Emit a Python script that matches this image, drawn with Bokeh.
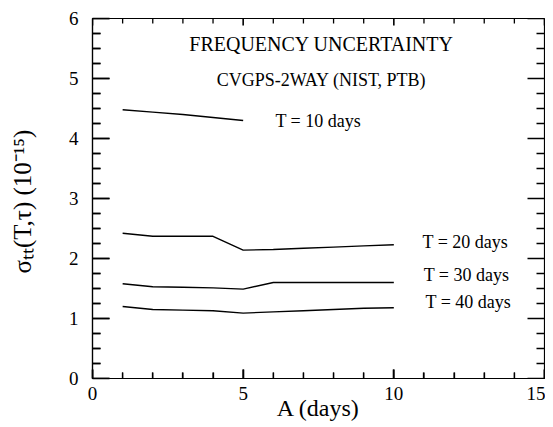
import numpy as np
from bokeh.plotting import figure
from bokeh.models import Label, Range1d, FixedTicker
from bokeh.embed import file_html
from bokeh.resources import INLINE

# data
A_t10 = [1, 2, 3, 4, 5]
S_t10 = [4.48, 4.44, 4.40, 4.35, 4.30]

A_t20 = [1, 2, 3, 4, 5, 6, 7, 8, 9, 10]
S_t20 = [2.42, 2.37, 2.37, 2.37, 2.14, 2.15, 2.17, 2.19, 2.21, 2.23]

A_t30 = [1, 2, 3, 4, 5, 6, 7, 8, 9, 10]
S_t30 = [1.58, 1.53, 1.52, 1.51, 1.49, 1.60, 1.60, 1.60, 1.60, 1.60]

A_t40 = [1, 2, 3, 4, 5, 6, 7, 8, 9, 10]
S_t40 = [1.20, 1.15, 1.14, 1.13, 1.09, 1.11, 1.13, 1.15, 1.17, 1.18]

x_ticks = [0, 5, 10, 15]
y_ticks = [0, 1, 2, 3, 4, 5, 6]
x_minor_step = 1.0
y_minor_step = 0.25

FONT = "Liberation Serif"
FW, FH = 452, 360
X0, X1, Y0, Y1 = 0, 15, 0, 6
xpp = (X1 - X0) / FW   # data units per pixel
ypp = (Y1 - Y0) / FH

p = figure(frame_width=FW, frame_height=FH, output_backend="svg", toolbar_location=None,
           x_range=Range1d(X0, X1), y_range=Range1d(Y0, Y1),
           min_border_left=92, min_border_right=1, min_border_top=18, min_border_bottom=10,
           x_axis_label="A (days)", y_axis_label="σₜₜ(T,τ)  (10⁻¹⁵)")
p.grid.visible = False
p.outline_line_color = "black"
p.outline_line_width = 1.2
p.border_fill_color = "white"

for xs, ys in [(A_t10, S_t10), (A_t20, S_t20), (A_t30, S_t30), (A_t40, S_t40)]:
    p.line(xs, ys, line_color="black", line_width=1.4)

x_major = [float(v) for v in x_ticks]
x_minor = [float(v) for v in np.arange(X0, X1 + 1e-9, x_minor_step) if v not in x_ticks]
y_major = [float(v) for v in y_ticks]
y_minor = [float(v) for v in np.arange(Y0, Y1 + 1e-9, y_minor_step) if v not in y_ticks]

# bottom / left axes with inward ticks
for ax in (p.xaxis[0], p.yaxis[0]):
    ax.major_tick_out = 0
    ax.minor_tick_out = 0
    ax.axis_line_color = "black"
    ax.axis_line_width = 1.2
    ax.major_tick_line_color = "black"
    ax.minor_tick_line_color = "black"
    ax.major_tick_line_width = 1.6
    ax.minor_tick_line_width = 1.3
    ax.major_label_text_font = FONT
    ax.major_label_text_font_size = "19px"
    ax.major_label_text_color = "black"
    ax.axis_label_text_font = FONT
    ax.axis_label_text_font_size = "24px"
    ax.axis_label_text_font_style = "normal"
    ax.axis_label_text_color = "black"

p.xaxis[0].ticker = FixedTicker(ticks=x_major, minor_ticks=x_minor)
p.yaxis[0].ticker = FixedTicker(ticks=y_major, minor_ticks=y_minor)
p.xaxis[0].major_tick_in = 9
p.xaxis[0].minor_tick_in = 6
p.yaxis[0].major_tick_in = 17
p.yaxis[0].minor_tick_in = 8
p.yaxis[0].axis_label_text_font_size = "25px"
p.xaxis[0].major_label_standoff = 8
p.xaxis[0].axis_label_standoff = -8
p.yaxis[0].major_label_standoff = 14
p.yaxis[0].axis_label_standoff = 30

# mirrored inward ticks on all four sides
def ticks_x(xs, length_px, lw, top_px):
    tx, ty = [], []
    for v in xs:
        tx.append([v, v]); ty.append([Y0, Y0 + length_px * ypp])
        tx.append([v, v]); ty.append([Y1, Y1 - top_px * ypp])
    p.multi_line(xs=tx, ys=ty, line_color="black", line_width=lw)

def ticks_y(ys, length_px, lw):
    tx, ty = [], []
    for v in ys:
        tx.append([X0, X0 + length_px * xpp]); ty.append([v, v])
        tx.append([X1, X1 - length_px * xpp]); ty.append([v, v])
    p.multi_line(xs=tx, ys=ty, line_color="black", line_width=lw)

ticks_x(x_major, 9, 1.6, 7)
ticks_x(x_minor, 6, 1.3, 5)
ticks_y(y_major, 17, 1.6)
ticks_y(y_minor, 8, 1.3)

texts = [
    (7.6, 5.58, "FREQUENCY UNCERTAINTY", "center", "20px"),
    (7.6, 4.97, "CVGPS-2WAY (NIST, PTB)", "center", "18px"),
    (6.07, 4.30, "T = 10 days", "left", "18px"),
    (10.95, 2.28, "T = 20 days", "left", "18px"),
    (10.99, 1.73, "T = 30 days", "left", "18px"),
    (11.05, 1.27, "T = 40 days", "left", "18px"),
]
for x, y, t, align, size in texts:
    p.add_layout(Label(x=x, y=y, text=t, text_align=align, text_baseline="middle",
                       text_font=FONT, text_font_size=size, text_color="black"))

open("out.html", "w").write(file_html(p, INLINE))
